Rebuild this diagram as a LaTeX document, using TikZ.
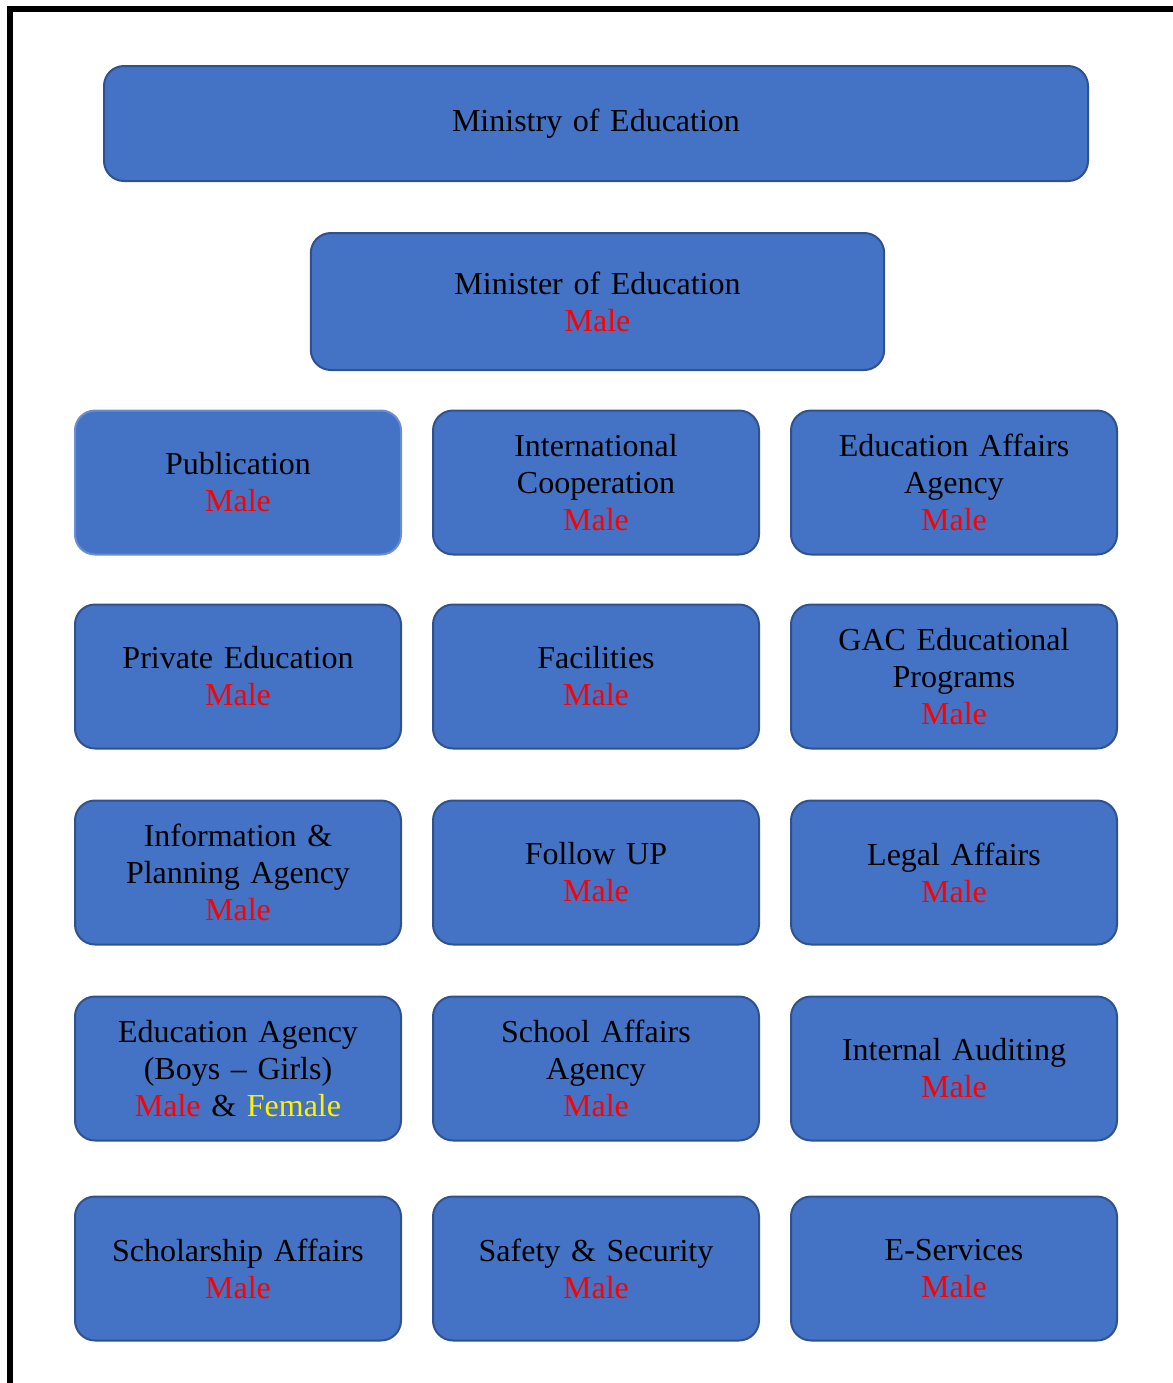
\documentclass[tikz,border=0pt]{standalone}
\usepackage{fontspec}
\setmainfont{Liberation Serif}
\usepackage{xcolor}
\usepackage{tikz}
\usetikzlibrary{positioning}

\definecolor{boxfill}{HTML}{4472C4}
\definecolor{boxline}{HTML}{2F528F}
\newcommand{\male}{\textcolor{red}{Male}}

\begin{document}
\begin{tikzpicture}[
    x=0.5pt, y=-0.5pt,
    node distance=24pt and 15pt,
    unit/.style={rectangle, draw=boxline, fill=boxfill, line width=1pt, minimum width=163pt, minimum height=72pt, text width=155pt, align=center, rounded corners=10pt, font=\fontsize{16}{18.5}\selectfont},
    frame/.style={line width=3pt, black}
]
    \useasboundingbox (0,0) rectangle (1173,1383);

    % Frame
    \draw[frame] (10,1383) -- (10,9) -- (1173,9);

    % Top
    \node[unit, minimum width=492pt, minimum height=57.5pt, text width=480pt] (ministry) at (596,123.5) {Ministry of Education};
    \node[unit, minimum width=286.5pt, minimum height=68.5pt, text width=280pt] (minister) at (597.5,301.5) {Minister of Education\\\male};

    % Row 1
    \node[unit, draw=boxfill!80!white] (publication) at (238,482.5) {Publication\\\male};
    \node[unit, right=of publication] (intcoop) {International\\Cooperation\\\male};
    \node[unit, right=of intcoop] (eduaffairs) {Education Affairs\\Agency\\\male};

    % Row 2
    \node[unit, below=of publication] (private) {Private Education\\\male};
    \node[unit, right=of private] (facilities) {Facilities\\\male};
    \node[unit, right=of facilities] (gac) {GAC Educational\\Programs\\\male};

    % Row 3
    \node[unit, below=25pt of private] (infoplan) {Information \&\\Planning Agency\\\male};
    \node[unit, right=of infoplan] (followup) {Follow UP\\\male};
    \node[unit, right=of followup] (legal) {Legal Affairs\\\male};

    % Row 4
    \node[unit, below=25pt of infoplan] (eduagency) {Education Agency\\(Boys -- Girls)\\\male{} \& \textcolor{yellow}{Female}};
    \node[unit, right=of eduagency] (school) {School Affairs\\Agency\\\male};
    \node[unit, right=of school] (auditing) {Internal Auditing\\\male};

    % Row 5
    \node[unit, below=27pt of eduagency] (scholarship) {Scholarship Affairs\\\male};
    \node[unit, right=of scholarship] (safety) {Safety \& Security\\\male};
    \node[unit, right=of safety] (eservices) {E-Services\\\male};
\end{tikzpicture}
\end{document}
